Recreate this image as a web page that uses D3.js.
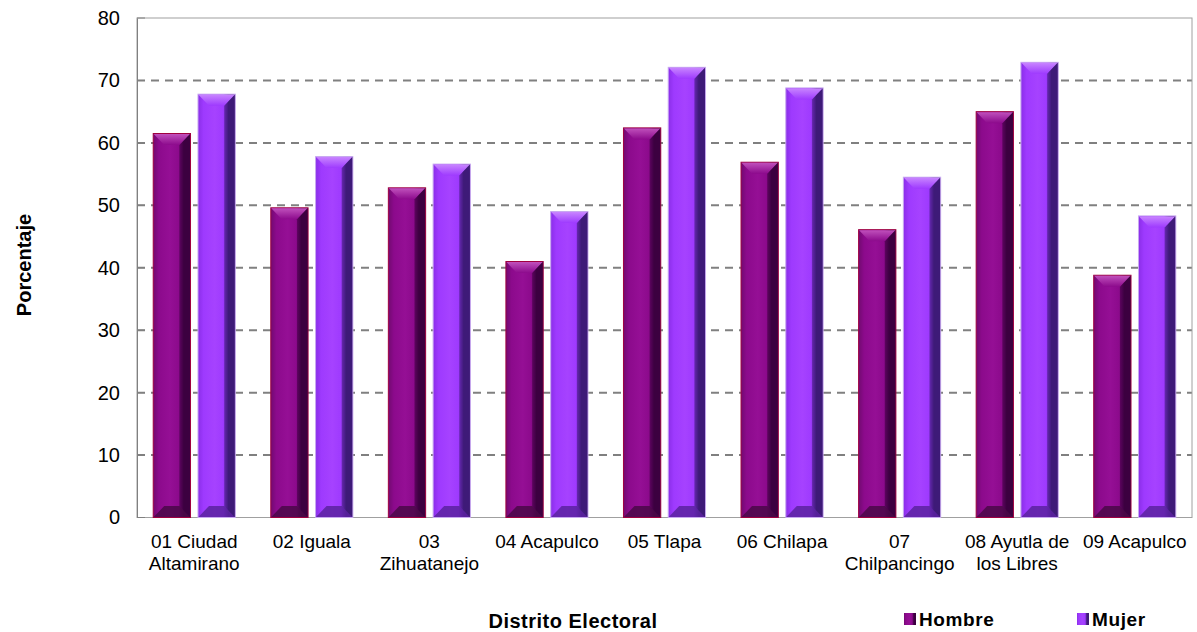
<!DOCTYPE html>
<html><head><meta charset="utf-8">
<script src="https://cdn.jsdelivr.net/npm/d3@7/dist/d3.min.js"></script>
<style>body{margin:0;background:#fff;}svg{display:block;font-family:"Liberation Sans",Arial,sans-serif;}</style>
</head><body><svg id="c" width="1197" height="632"></svg>
<script>
const categories = [["01 Ciudad","Altamirano"],["02 Iguala"],["03","Zihuatanejo"],["04 Acapulco"],["05 Tlapa"],["06 Chilapa"],["07","Chilpancingo"],["08 Ayutla de","los Libres"],["09 Acapulco"]];
const hombre = [61.5, 49.6, 52.8, 41.0, 62.4, 56.9, 46.1, 65.0, 38.8];
const mujer  = [67.8, 57.8, 56.6, 49.0, 72.1, 68.8, 54.5, 72.9, 48.3];
const seriesNames = ["Hombre","Mujer"];
const yTicks = [0,10,20,30,40,50,60,70,80];

const svg = d3.select("#c");
const M = {l:137, r:1192, t:18, b:517.5};
const x0 = d3.scaleBand().domain(d3.range(categories.length)).range([M.l, M.r]).paddingInner(0.302).paddingOuter(0.138);
const x1 = d3.scaleBand().domain([0,1]).range([0, x0.bandwidth()]).paddingInner(0.167);
const y = d3.scaleLinear().domain([0,80]).range([M.b, M.t]);

const defs = svg.append("defs");
const pal = [
  {main:"#8c0a8c", left:"#720a70", light:"#950f95", dark:"#3c0040", top:"#c050bc", bot:"#4a0848", stroke:"#a00040"},
  {main:"#9e3afe", left:"#8a2ee8", light:"#a642ff", dark:"#3e1a78", top:"#c884ff", bot:"#5a22a0", stroke:"#c8a8f0"}
];
pal.forEach((p,i)=>{
  const g = defs.append("linearGradient").attr("id","g"+i).attr("x1","0").attr("x2","1").attr("y1","0").attr("y2","0");
  [[0,p.left],[0.15,p.main],[0.45,p.light],[0.68,p.main],[0.82,p.dark],[1,p.dark]].forEach(s=>g.append("stop").attr("offset",s[0]).attr("stop-color",s[1]));
  const t = defs.append("linearGradient").attr("id","t"+i).attr("x1","0").attr("x2","0").attr("y1","0").attr("y2","1");
  t.append("stop").attr("offset",0).attr("stop-color",p.top);
  t.append("stop").attr("offset",1).attr("stop-color",p.main);
});

// gridlines
svg.append("g").selectAll("line").data(yTicks.filter(d=>d>0 && d<80)).join("line")
  .attr("x1",M.l).attr("x2",M.r).attr("y1",d=>y(d)).attr("y2",d=>y(d))
  .attr("stroke","#808080").attr("stroke-width",2).attr("stroke-dasharray","8,6");
// frame
svg.append("rect").attr("x",M.l).attr("y",M.t).attr("width",M.r-M.l).attr("height",M.b-M.t)
  .attr("fill","none").attr("stroke","#a0a0a0").attr("stroke-width",1);

// y axis
const yAxis = d3.axisLeft(y).tickValues(yTicks).tickSize(0).tickPadding(17);
const ya = svg.append("g").attr("transform",`translate(${M.l},0)`).call(yAxis);
ya.select(".domain").attr("stroke","#808080");
ya.selectAll("text").attr("font-size",20).attr("fill","#000").attr("font-family","Liberation Sans, Arial, sans-serif");
svg.append("g").selectAll("line").data(yTicks).join("line")
  .attr("x1",M.l).attr("x2",M.l+8).attr("y1",d=>y(d)).attr("y2",d=>y(d)).attr("stroke","#808080");

// bars
const data = [];
categories.forEach((c,i)=>{ data.push({i,s:0,v:hombre[i]}); data.push({i,s:1,v:mujer[i]}); });
const bars = svg.append("g").selectAll("g").data(data).join("g")
  .attr("transform",d=>`translate(${x0(d.i)+x1(d.s)},0)`);
const w = x1.bandwidth();
const bv = 11;
bars.append("rect").attr("x",0).attr("y",d=>y(d.v)).attr("width",w).attr("height",d=>y(0)-y(d.v))
  .attr("fill",d=>`url(#g${d.s})`).attr("stroke",d=>pal[d.s].stroke).attr("stroke-width",1);
bars.append("path").attr("d",d=>{const t=y(d.v)+0.5;return `M0.5,${t}L${w-0.5},${t}L${w-bv},${t+bv}L${bv},${t+bv}Z`;})
  .attr("fill",d=>`url(#t${d.s})`);
bars.append("path").attr("d",d=>{const b=y(0)-0.5;return `M0.5,${b}L${w-0.5},${b}L${w-bv},${b-bv}L${bv},${b-bv}Z`;})
  .attr("fill",d=>pal[d.s].bot).attr("opacity",0.85);
bars.append("path").attr("d",d=>{const t=y(d.v)+0.5,b=y(0)-0.5;return `M${w-0.5},${t}L${w-0.5},${b}L${w-bv},${b-bv}L${w-bv},${t+bv}Z`;})
  .attr("fill",d=>pal[d.s].dark).attr("opacity",0.5);

// category labels
const cl = svg.append("g").selectAll("text").data(categories).join("text")
  .attr("x",(d,i)=>x0(i)+x0.bandwidth()/2).attr("y",548).attr("text-anchor","middle")
  .attr("font-size",19).attr("fill","#000");
cl.selectAll("tspan").data(d=>d).join("tspan").attr("x",function(){return this.parentNode.getAttribute("x");})
  .attr("dy",(d,j)=>j===0?0:22).text(d=>d);

// axis titles
svg.append("text").attr("transform","translate(31,265) rotate(-90)").attr("text-anchor","middle")
  .attr("font-size",20).attr("font-weight","bold").text("Porcentaje");
svg.append("text").attr("x",573).attr("y",628).attr("text-anchor","middle")
  .attr("font-size",20).attr("font-weight","bold").attr("letter-spacing",0.5).text("Distrito Electoral");

// legend
const lx = [904, 1077];
const lg = svg.append("g").selectAll("g").data(seriesNames).join("g").attr("transform",(d,i)=>`translate(${lx[i]},613)`);
lg.append("rect").attr("x",0).attr("y",0).attr("width",12).attr("height",12).attr("fill",(d,i)=>`url(#g${i})`);
lg.append("text").attr("x",15).attr("y",12.5).attr("font-size",19).attr("font-weight","bold").attr("letter-spacing",0.6).text(d=>d);
</script></body></html>
